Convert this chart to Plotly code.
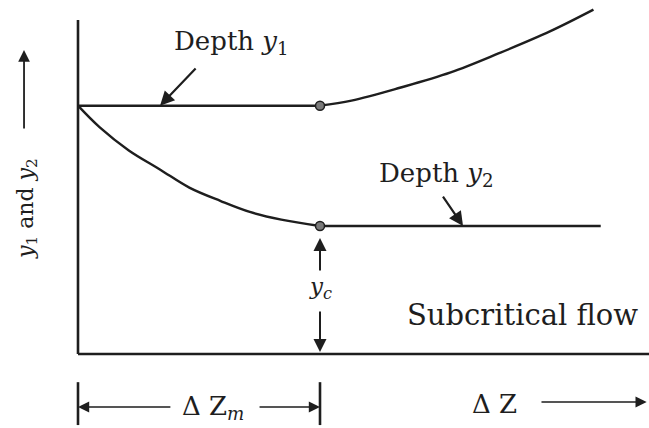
import plotly.graph_objects as go

# Gradually varied flow profiles: depth y1 and depth y2 against distance dZ.
# Distances are in units of dZm, depths in units of the critical depth yc.
DZ_M = 1.0
Y_C = 1.0
Y_START = 1.94

dz_y1 = [0.0, 1.0, 1.13, 1.33, 1.54, 1.74, 1.95, 2.13]
y1 = [1.94, 1.94, 1.98, 2.08, 2.20, 2.35, 2.52, 2.69]

dz_y2 = [0.0, 0.09, 0.21, 0.34, 0.46, 0.59, 0.71, 0.84, 1.0, 2.16]
y2 = [1.94, 1.77, 1.59, 1.44, 1.30, 1.195, 1.11, 1.05, 1.0, 1.0]

labels = {
    "y1": "Depth <i>y</i><sub>1</sub>",
    "y2": "Depth <i>y</i><sub>2</sub>",
    "yc": "<i>y<sub>c</sub></i>",
    "flow": "Subcritical flow",
    "dzm": "Δ Z<sub><i>m</i></sub>",
    "dz": "Δ Z",
    "yaxis": "<i>y</i><sub>1</sub> and <i>y</i><sub>2</sub>",
}

X_RANGE = [-0.3223, 2.3595]
Y_RANGE = [-0.578, 2.7656]
X_AXIS_END = 2.3595
Y_AXIS_TOP = 2.61

INK = "#1e1e1e"
FONT = "DejaVu Serif"

fig = go.Figure()


def line(xs, ys, width=2.4, shape="linear", color=INK):
    fig.add_trace(go.Scatter(x=xs, y=ys, mode="lines",
                             line=dict(color=color, width=width, shape=shape, smoothing=1.0),
                             hoverinfo="skip", showlegend=False))


# drawing axes
line([0, 0], [0, Y_AXIS_TOP], width=2.6)
line([0, X_AXIS_END], [0, 0], width=2.6)

# depth y1: flat up to dZm, then rising
line(dz_y1[:2], y1[:2])
line(dz_y1[1:], y1[1:], shape="spline")

# depth y2: falling to yc at dZm, then flat
line(dz_y2[:-1], y2[:-1], shape="spline")
line(dz_y2[-2:], y2[-2:])

# points where the profiles meet dZm
fig.add_trace(go.Scatter(x=[dz_y1[1], dz_y2[-2]], y=[y1[1], y2[-2]], mode="markers",
                         marker=dict(size=9, color="#7a7a7a", line=dict(color=INK, width=1.5)),
                         hoverinfo="skip", showlegend=False))

# limit bars of dZm below the axis
line([0, 0], [-0.22, -0.555], width=2.6)
line([DZ_M, DZ_M], [-0.22, -0.555], width=2.6)

ann = []


def arrow(x, y, ax, ay, width=1.8, size=1.3):
    ann.append(dict(x=x, y=y, ax=ax, ay=ay, xref="x", yref="y", axref="x", ayref="y",
                    text="", showarrow=True, arrowhead=2, arrowsize=size,
                    arrowwidth=width, arrowcolor=INK, standoff=0, startstandoff=0))


def label(x, y, text, size, angle=0):
    ann.append(dict(x=x, y=y, xref="x", yref="y", text=text, showarrow=False,
                    textangle=angle, font=dict(family=FONT, size=size, color=INK)))


label(0.636, 2.43, labels["y1"], 26)
arrow(0.339, Y_START, 0.492, 2.242, width=2.2)

label(1.483, 1.40, labels["y2"], 26)
arrow(1.591, Y_C, 1.504, 1.242, width=2.2)

# yc dimension
arrow(DZ_M, 0.906, DZ_M, 0.64, width=2.0)
arrow(DZ_M, 0.016, DZ_M, 0.344, width=2.0)
label(DZ_M, 0.516, labels["yc"], 23)

label(1.835, 0.305, labels["flow"], 29)

# y axis title with arrow
label(-0.211, 1.14, labels["yaxis"], 22, angle=-90)
arrow(-0.223, 2.375, -0.223, 1.75, width=1.8)

# dZm dimension and dZ direction
arrow(0.0, -0.414, 0.388, -0.414, width=1.4, size=1.6)
arrow(DZ_M, -0.414, 0.744, -0.414, width=1.4, size=1.6)
label(0.558, -0.414, labels["dzm"], 26)
label(1.719, -0.39, labels["dz"], 26)
arrow(2.35, -0.375, 1.909, -0.375, width=1.4, size=1.6)

fig.update_layout(
    width=649, height=428,
    margin=dict(l=0, r=0, t=0, b=0),
    paper_bgcolor="white", plot_bgcolor="white",
    xaxis=dict(range=X_RANGE, visible=False, fixedrange=True),
    yaxis=dict(range=Y_RANGE, visible=False, fixedrange=True),
    annotations=ann,
    showlegend=False,
)

fig.write_html("out.html", config={"displayModeBar": False})
